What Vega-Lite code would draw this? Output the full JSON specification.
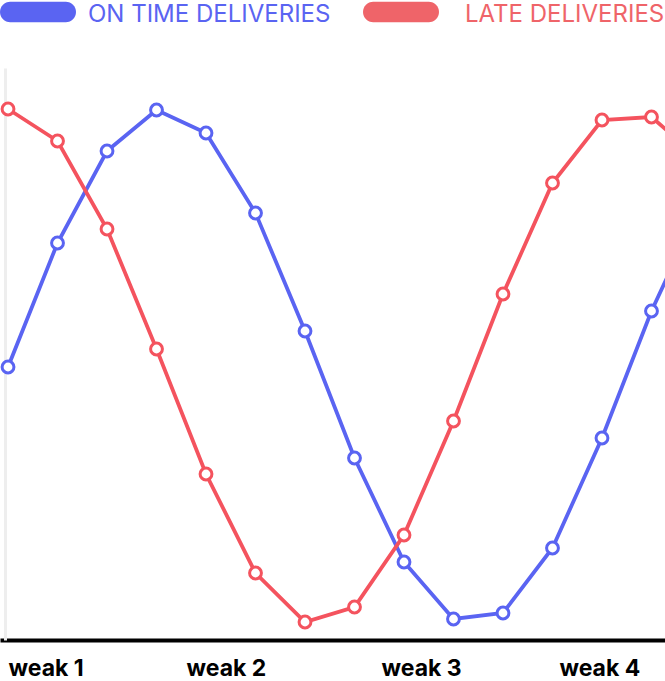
{
  "$schema": "https://vega.github.io/schema/vega-lite/v6.json",
  "width": 665,
  "height": 572,
  "autosize": {"type": "none"},
  "padding": {"top": 68, "left": 0, "right": 0, "bottom": 41},
  "background": "white",
  "config": {"view": {"stroke": null}, "font": "Roboto"},
  "data": {
    "values": [
      {"series": "ON TIME DELIVERIES", "i": 0, "v": 273},
      {"series": "ON TIME DELIVERIES", "i": 1, "v": 397},
      {"series": "ON TIME DELIVERIES", "i": 2, "v": 489},
      {"series": "ON TIME DELIVERIES", "i": 3, "v": 530},
      {"series": "ON TIME DELIVERIES", "i": 4, "v": 507},
      {"series": "ON TIME DELIVERIES", "i": 5, "v": 427},
      {"series": "ON TIME DELIVERIES", "i": 6, "v": 309},
      {"series": "ON TIME DELIVERIES", "i": 7, "v": 182},
      {"series": "ON TIME DELIVERIES", "i": 8, "v": 78},
      {"series": "ON TIME DELIVERIES", "i": 9, "v": 21},
      {"series": "ON TIME DELIVERIES", "i": 10, "v": 27},
      {"series": "ON TIME DELIVERIES", "i": 11, "v": 92},
      {"series": "ON TIME DELIVERIES", "i": 12, "v": 202},
      {"series": "ON TIME DELIVERIES", "i": 13, "v": 329},
      {"series": "ON TIME DELIVERIES", "i": 14, "v": 435},
      {"series": "LATE DELIVERIES", "i": 0, "v": 531},
      {"series": "LATE DELIVERIES", "i": 1, "v": 499},
      {"series": "LATE DELIVERIES", "i": 2, "v": 411},
      {"series": "LATE DELIVERIES", "i": 3, "v": 291},
      {"series": "LATE DELIVERIES", "i": 4, "v": 166},
      {"series": "LATE DELIVERIES", "i": 5, "v": 67},
      {"series": "LATE DELIVERIES", "i": 6, "v": 18},
      {"series": "LATE DELIVERIES", "i": 7, "v": 33},
      {"series": "LATE DELIVERIES", "i": 8, "v": 105},
      {"series": "LATE DELIVERIES", "i": 9, "v": 219},
      {"series": "LATE DELIVERIES", "i": 10, "v": 346},
      {"series": "LATE DELIVERIES", "i": 11, "v": 457},
      {"series": "LATE DELIVERIES", "i": 12, "v": 520},
      {"series": "LATE DELIVERIES", "i": 13, "v": 523},
      {"series": "LATE DELIVERIES", "i": 14, "v": 480}
    ]
  },
  "encoding": {
    "x": {
      "field": "i",
      "type": "quantitative",
      "scale": {"domain": [-0.162, 13.273], "nice": false, "zero": false},
      "axis": {
        "title": null,
        "values": [0, 3.596, 7.535, 11.13],
        "labelExpr": "datum.value < 1 ? 'weak 1' : datum.value < 5 ? 'weak 2' : datum.value < 9 ? 'weak 3' : 'weak 4'",
        "labelAlign": "left",
        "labelBaseline": "top",
        "labelPadding": 17,
        "labelFont": "Inter",
        "labelFontWeight": "bold",
        "labelFontSize": 23,
        "labelColor": "#000000",
        "labelOverlap": false,
        "labelBound": false,
        "labelFlush": false,
        "ticks": false,
        "grid": false,
        "domainColor": "#000000",
        "domainWidth": 4
      }
    },
    "y": {
      "field": "v",
      "type": "quantitative",
      "scale": {"domain": [0, 572], "nice": false},
      "axis": {
        "title": null,
        "labels": false,
        "ticks": false,
        "grid": false,
        "offset": -5,
        "domainColor": "#eeeeee",
        "domainWidth": 3
      }
    },
    "color": {
      "field": "series",
      "type": "nominal",
      "scale": {"domain": ["ON TIME DELIVERIES", "LATE DELIVERIES"], "range": ["#5A64F2", "#F4535E"]},
      "legend": {
        "title": null,
        "orient": "none",
        "direction": "horizontal",
        "legendX": 0,
        "legendY": -94,
        "padding": 0,
        "symbolType": "M-0.73,-0.27 L0.73,-0.27 A0.27,0.27 0 0 1 0.73,0.27 L-0.73,0.27 A0.27,0.27 0 0 1 -0.73,-0.27 Z",
        "symbolSize": 5776,
        "symbolStrokeWidth": 0,
        "labelFont": "Inter",
        "labelFontSize": 24,
        "labelOffset": 12,
        "columnPadding": 32,
        "labelLimit": 400,
        "encode": {
          "symbols": {"update": {"fill": [{"test": "datum.index === 1", "value": "#EF6469"}, {"scale": "color", "field": "value"}], "stroke": {"value": "transparent"}, "opacity": {"value": 1}}},
          "labels": {"update": {"fill": [{"test": "datum.index === 1", "value": "#EF6469"}, {"scale": "color", "field": "value"}], "dy": {"value": 3}, "dx": [{"test": "datum.index === 1", "value": 14}, {"value": 0}]}}
        }
      }
    }
  },
  "layer": [
    {"mark": {"type": "line", "strokeWidth": 3.8, "clip": true}},
    {"mark": {"type": "point", "filled": false, "fill": "white", "strokeWidth": 3, "size": 140, "opacity": 1, "clip": true}}
  ]
}
